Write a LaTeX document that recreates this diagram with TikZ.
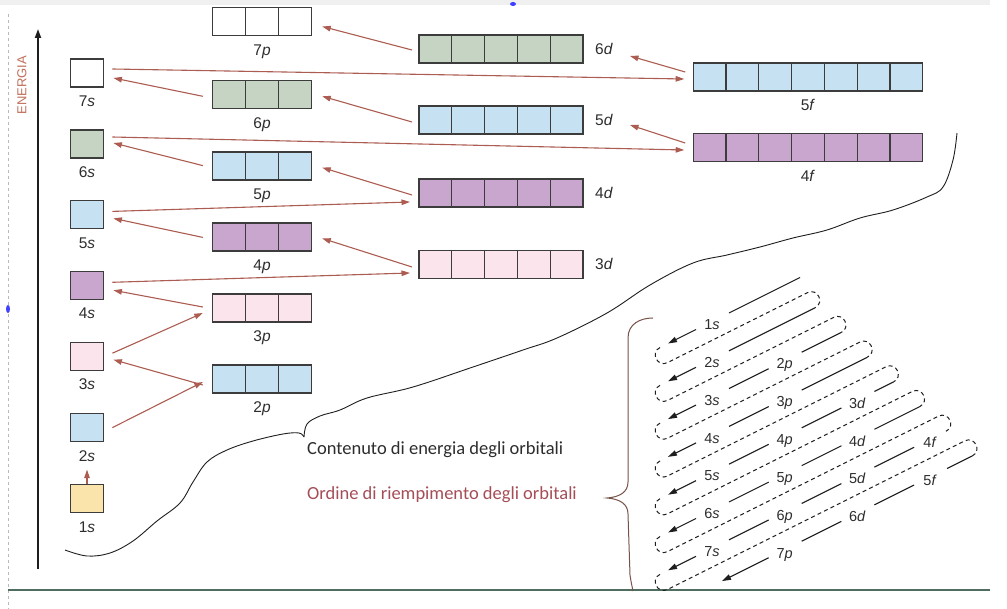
\documentclass[tikz,border=0pt]{standalone}
\usepackage{fontspec}
\usetikzlibrary{calc,arrows.meta}
\newfontfamily\lblfont{Liberation Sans}
\newfontfamily\capfont{Carlito}

\definecolor{arrowred}{RGB}{172,92,80}
\definecolor{boxedge}{RGB}{60,60,60}
\definecolor{fillY}{RGB}{250,228,172}
\definecolor{fillB}{RGB}{198,226,242}
\definecolor{fillK}{RGB}{251,228,236}
\definecolor{fillV}{RGB}{201,166,206}
\definecolor{fillG}{RGB}{197,212,195}
\definecolor{inkc}{RGB}{45,45,45}
\definecolor{inkd}{RGB}{30,30,30}
\definecolor{ordc}{RGB}{165,78,88}
\definecolor{enc}{RGB}{192,112,92}
\definecolor{bracec}{RGB}{118,82,72}
\definecolor{framec}{RGB}{80,110,95}

% orbital box: name, number of cells, centre x, centre y, fill colour
\newcommand\orbbox[5]{%
  \node[orb, fill=#5, minimum width=#2*32.8pt] (#1) at (#3,#4) {};
  \ifnum#2>1
    \pgfmathtruncatemacro\lastcell{#2-1}%
    \foreach \i in {1,...,\lastcell}
      \draw[cellline] ($(#1.north west)+(\i*32.8,0)$) -- ($(#1.south west)+(\i*32.8,0)$);
  \fi
}

\begin{document}
\begin{tikzpicture}[x=1pt,y=-1pt,
  orb/.style={draw=boxedge, line width=1.1pt, minimum height=28pt, inner sep=0pt, outer sep=0pt},
  cellline/.style={draw=boxedge, line width=1.1pt},
  olbl/.style={font=\lblfont\fontsize{15.5}{16}\selectfont, inner sep=0pt, text height=11pt, text depth=3pt, text=inkc},
  mlbl/.style={font=\lblfont\fontsize{14.5}{15}\selectfont, inner sep=0pt, text height=10.5pt, text depth=3pt, text=inkc},
  fillarr/.style={draw=arrowred, line width=1.1pt, -{Triangle[length=8.5pt,width=5.5pt]}},
  diag/.style={draw=inkd, line width=1.1pt},
  diagtip/.style={diag, -{Triangle[length=9pt,width=5.5pt]}},
  ret/.style={draw=inkd, line width=1pt, dash pattern=on 4pt off 3.2pt},
  declare function={dy(\k,\x)=321.5+(\k-1)*37.8-0.5*(\x-712);
                    xt(\k)=ifthenelse(\k==1,800,815+(\k-2)*26.2);
                    lx(\l)=712+72.7*\l;}
]
\useasboundingbox (0,0) rectangle (1007,609);
\fill[white] (0,0) rectangle (1007,609);

% page frame
\fill[gray!12] (0,0) rectangle (990,5);
\draw[gray!55, dashed, line width=0.6pt] (8,14) -- (8,609);
\draw[framec, line width=1.8pt] (8,590) -- (990,590);
\fill[blue!75] (8,309) ellipse (2 and 4);
\fill[blue!75] (513,4) ellipse (3 and 2);

% energy axis
\coordinate (axbot) at (38,569);
\coordinate (axtop) at (38,29);
\draw[line width=1.8pt, draw=inkd, -{Triangle[length=9pt,width=6pt]}] (axbot) -- (axtop);
\node[font=\lblfont\fontsize{13}{14}\selectfont, text=enc, rotate=90] (energia) at (22,85) {ENERGIA};

% s orbitals
\orbbox{s1}{1}{87}{498.5}{fillY}
\orbbox{s2}{1}{87}{427.6}{fillB}
\orbbox{s3}{1}{87}{356.2}{fillK}
\orbbox{s4}{1}{87}{285.3}{fillV}
\orbbox{s5}{1}{87}{214.4}{fillB}
\orbbox{s6}{1}{87}{144}{fillG}
\orbbox{s7}{1}{87}{73}{white}
% p orbitals
\orbbox{p2}{3}{262}{379}{fillB}
\orbbox{p3}{3}{262}{308}{fillK}
\orbbox{p4}{3}{262}{237}{fillV}
\orbbox{p5}{3}{262}{166}{fillB}
\orbbox{p6}{3}{262}{94.5}{fillG}
\orbbox{p7}{3}{262}{21.5}{white}
% d orbitals
\orbbox{d3}{5}{501}{264.5}{fillK}
\orbbox{d4}{5}{501}{193}{fillV}
\orbbox{d5}{5}{501}{120}{fillB}
\orbbox{d6}{5}{501}{49}{fillG}
% f orbitals
\orbbox{f4}{7}{808}{147.5}{fillV}
\orbbox{f5}{7}{808}{77}{fillB}

% labels
\foreach \n in {1,...,7} \node[olbl, below=8.5pt] (ls\n) at (s\n.south) {\n\textit{s}};
\foreach \n in {2,...,7} \node[olbl, below=8.5pt] (lp\n) at (p\n.south) {\n\textit{p}};
\foreach \n in {3,...,6} \node[olbl, anchor=west] (ld\n) at ($(d\n.east)+(12,1.5)$) {\n\textit{d}};
\foreach \n in {4,5} \node[olbl, below=8.5pt] (lf\n) at (f\n.south) {\n\textit{f}};

% filling order
\draw[fillarr] ($(s1.north)+(0,-1)$) -- ($(s2.south)+(0,28)$);
\draw[fillarr] ($(s2.east)+(9,0)$) -- ($(p2.west)+(-10,3)$);
\draw[fillarr] ($(p2.west)+(-10,6)$) -- ($(s3.east)+(10,3.5)$);
\draw[fillarr] ($(s3.east)+(9,-3)$) -- ($(p3.west)+(-10,5)$);
\draw[fillarr] ($(p3.west)+(-10,-1)$) -- ($(s4.east)+(10,5)$);
\draw[fillarr] ($(s4.east)+(9,-3)$) -- ($(d3.west)+(-9,8.5)$);
\draw[fillarr] ($(d3.west)+(-7,2.5)$) -- ($(p4.east)+(11,1.4)$);
\draw[fillarr] ($(p4.west)+(-10,0.4)$) -- ($(s5.east)+(10,4)$);
\draw[fillarr] ($(s5.east)+(9,-3)$) -- ($(d4.west)+(-9,9)$);
\draw[fillarr] ($(d4.west)+(-7,2)$) -- ($(p5.east)+(11,1.6)$);
\draw[fillarr] ($(p5.west)+(-10,-0.4)$) -- ($(s6.east)+(10,-1)$);
\draw[fillarr] ($(s6.east)+(9,-7)$) -- ($(f4.west)+(-9,2.5)$);
\draw[fillarr] ($(f4.west)+(-8,-4.5)$) -- ($(d5.east)+(47,5)$);
\draw[fillarr] ($(d5.west)+(-7,2)$) -- ($(p6.east)+(11,1.8)$);
\draw[fillarr] ($(p6.west)+(-10,1.8)$) -- ($(s7.east)+(10,5)$);
\draw[fillarr] ($(s7.east)+(9,-4)$) -- ($(f5.west)+(-9,2)$);
\draw[fillarr] ($(f5.west)+(-8,-5)$) -- ($(d6.east)+(47,7)$);
\draw[fillarr] ($(d6.west)+(-7,1)$) -- ($(p7.east)+(11,5)$);

% dividing line
\draw[line width=0.9pt, draw=inkd] plot[smooth, tension=0.6] coordinates {(65,550) (87,556) (110,553) (133,541) (157,521) (180,503) (193,482) (207,462) (227,450) (253,441) (283,434) (299,433) (304,437)};
\draw[line width=0.9pt, draw=inkd] plot[smooth, tension=0.6] coordinates {(304,437) (307,424) (320,416) (340,410) (367,398) (413,387) (473,367) (523,350) (557,338) (607,313) (650,285) (693,263) (727,255) (760,247) (793,238) (827,230) (860,218) (893,210) (927,197) (943,187) (953,160) (957,133)};

% captions
\node[font=\capfont\fontsize{18.5}{20}\selectfont, text=inkc, anchor=west, inner sep=0pt] (cap1) at (307,450) {Contenuto di energia degli orbitali};
\node[font=\capfont\fontsize{18.5}{20}\selectfont, text=ordc, anchor=west, inner sep=0pt] (cap2) at (307,495) {Ordine di riempimento degli orbitali};

% brace
\draw[bracec, line width=1pt] (653,318) .. controls (640,318) and (628,324) .. (628,338) -- (628,482) .. controls (628,492) and (620,497) .. (607,498) .. controls (620,499) and (628,504) .. (628,514) -- (630,575) .. controls (631,582) and (632,586) .. (633,591);

% diagonal rule: labels
\foreach \n/\l/\c in {1/0/s,2/0/s,2/1/p,3/0/s,3/1/p,3/2/d,4/0/s,4/1/p,4/2/d,4/3/f,5/0/s,5/1/p,5/2/d,5/3/f,6/0/s,6/1/p,6/2/d,7/0/s,7/1/p} {
  \pgfmathsetmacro\lxx{lx(\l)}
  \pgfmathsetmacro\lyy{dy(\n+\l,\lxx)+4.5}
  \node[mlbl] (m\n\c) at (\lxx,\lyy) {\n\textit{\c}};
}
% diagonal rule: solid pieces between labels
\foreach \k/\a/\b in {1/800/729, 2/815/729,
    3/841.2/801.7, 3/768.7/729,
    4/867.4/801.7, 4/768.7/729,
    5/893.6/874.4, 5/841.4/801.7, 5/768.7/729,
    6/919.8/874.4, 6/841.4/801.7, 6/768.7/729,
    7/914.1/874.4, 7/841.4/801.7, 7/768.7/729,
    8/972.2/947.1, 8/914.1/874.4, 8/841.4/801.7}
  \draw[diag] (\a,{dy(\k,\a)}) -- (\b,{dy(\k,\b)});
\foreach \k/\a/\b in {1/696/668, 2/696/668, 3/696/668, 4/696/668, 5/696/668, 6/696/668, 7/696/668, 8/768.7/722}
  \draw[diagtip] (\a,{dy(\k,\a)}) -- (\b,{dy(\k,\b)});
% diagonal rule: dashed returns
\foreach \k in {1,...,7} {
  \pgfmathsetmacro\kk{\k+1}
  \pgfmathsetmacro\by{dy(\k,660)}
  \pgfmathsetmacro\tx{xt(\kk)}
  \pgfmathsetmacro\ty{dy(\kk,\tx)}
  \draw[ret] (660,\by) .. controls (649.9,{\by+5.05}) and (657.46,{\by+20.17}) .. (667.56,{\by+15.12})
    -- ({\tx-7.56},{\ty-15.12}) .. controls ({\tx+2.54},{\ty-20.17}) and ({\tx+10.1},{\ty-5.05}) .. (\tx,\ty);
}
\end{tikzpicture}
\end{document}
